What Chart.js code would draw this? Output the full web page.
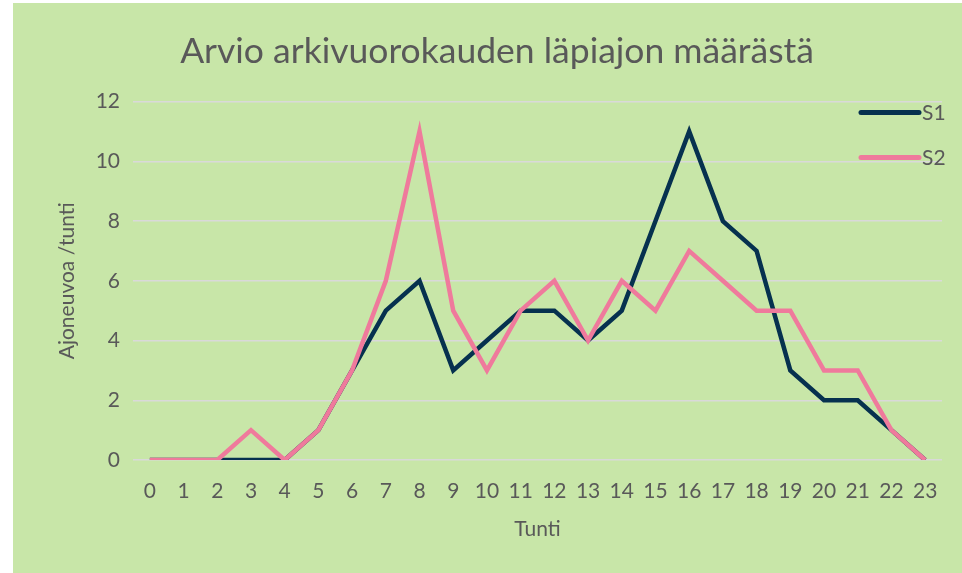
<!DOCTYPE html>
<html>
<head>
<meta charset="utf-8">
<script src="https://cdn.jsdelivr.net/npm/chart.js@4/dist/chart.umd.min.js"></script>
<style>
  html, body { margin: 0; padding: 0; background: #fff; overflow: hidden; }
  #wrap { position: absolute; left: 13px; top: 3px; width: 968px; height: 570px; background: #C8E6A8; }
</style>
</head>
<body>
<div id="wrap"><canvas id="chart"></canvas></div>
<script>
var hours = ['0','1','2','3','4','5','6','7','8','9','10','11','12','13','14','15','16','17','18','19','20','21','22','23'];
var s1 = [0,0,0,0,0,1,3,5,6,3,4,5,5,4,5,8,11,8,7,3,2,2,1,0];
var s2 = [0,0,0,1,0,1,3,6,11,5,3,5,6,4,6,5,7,6,5,5,3,3,1,0];
var yTicks = [0,2,4,6,8,10,12];

var textColor = '#595959';
var fontName = 'Lato';

// legend drawn inside plot, top right, like the original
var lineLegend = {
    id: 'lineLegend',
    afterLayout: function(chart) {
        // title is centred on the whole chart width, not only the padded box
        if (chart.titleBlock) {
            chart.titleBlock.left = 0;
            chart.titleBlock.right = chart.width;
            chart.titleBlock.width = chart.width;
        }
    },
    afterDatasetsDraw: function(chart) {
        var ctx = chart.ctx;
        var area = chart.chartArea;
        var x0 = area.right - 81, x1 = area.right - 23;
        chart.data.datasets.forEach(function(ds, i) {
            var y = area.top + 11 + i * 45;
            ctx.save();
            ctx.strokeStyle = ds.borderColor;
            ctx.lineWidth = 5;
            ctx.lineCap = 'round';
            ctx.beginPath();
            ctx.moveTo(x0, y);
            ctx.lineTo(x1, y);
            ctx.stroke();
            ctx.fillStyle = textColor;
            ctx.font = '21px ' + fontName;
            ctx.textBaseline = 'middle';
            ctx.fillText(ds.label, x1 + 3, y + 1);
            ctx.restore();
        });
    }
};

new Chart(document.getElementById('chart'), {
    type: 'line',
    data: {
        labels: hours,
        datasets: [
            // S2 is drawn over S1 in the original
            { label: 'S1', data: s1, borderColor: '#06314F', borderWidth: 4.5, pointRadius: 0, tension: 0, order: 1 },
            { label: 'S2', data: s2, borderColor: '#EF7A9C', borderWidth: 4.5, pointRadius: 0, tension: 0, order: 0 }
        ]
    },
    options: {
        responsive: true,
        maintainAspectRatio: false,
        animation: false,
        layout: { padding: { left: 0, right: 39, top: 0, bottom: 0 } },
        plugins: {
            legend: { display: false },
            tooltip: { enabled: false },
            title: {
                display: true,
                text: 'Arvio arkivuorokauden läpiajon määrästä',
                color: textColor,
                font: { family: fontName, size: 35.5, weight: 'normal' },
                padding: { top: 27, bottom: 29 }
            }
        },
        scales: {
            x: {
                offset: true,
                grid: { display: false, drawTicks: false },
                border: { display: false },
                ticks: { color: textColor, font: { family: fontName, size: 21 }, padding: 19, maxRotation: 0, autoSkip: false },
                title: { display: true, text: 'Tunti', color: textColor, font: { family: fontName, size: 21 }, padding: { top: 0, bottom: 31 } },
                afterFit: function(scale) { scale.height = 113; }
            },
            y: {
                min: 0,
                max: 12,
                afterBuildTicks: function(scale) { scale.ticks = yTicks.map(function(v) { return { value: v }; }); },
                grid: { color: '#D9D9D9', lineWidth: 1.5, drawTicks: false },
                border: { display: false },
                ticks: { color: textColor, font: { family: fontName, size: 21 }, padding: 13 },
                title: { display: true, text: 'Ajoneuvoa /tunti', color: textColor, font: { family: fontName, size: 21 }, padding: { top: 42, bottom: 0 } },
                afterFit: function(scale) { scale.width = 120; }
            }
        }
    },
    plugins: [lineLegend]
});
</script>
</body>
</html>
